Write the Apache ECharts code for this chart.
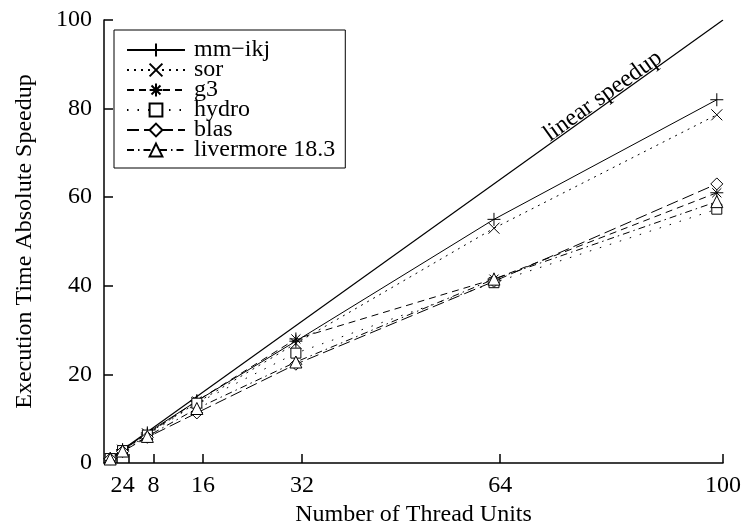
<!DOCTYPE html>
<html>
<head>
<meta charset="utf-8">
<script src="https://cdn.jsdelivr.net/npm/echarts@6/dist/echarts.min.js"></script>
<style>
  html, body { margin: 0; padding: 0; background: #fff; }
  #chart { width: 746px; height: 527px; }
</style>
</head>
<body>
<div id="chart"></div>
<script>
// thread units where each run was measured
var threads = [1, 3, 7, 15, 31, 63, 99];
var mmIkj = [1, 3, 6.8, 14, 27.5, 55, 82];
var sor = [1, 2.9, 6.6, 13.6, 27, 53, 78.6];
var g3 = [1, 2.9, 6.5, 14, 28, 41.5, 61];
var hydro = [1, 2.8, 6.3, 13.5, 24.8, 40.7, 57.3];
var blas = [0.9, 2.6, 5.8, 11.3, 22.3, 41, 63];
var livermore = [0.9, 2.7, 6, 12.3, 22.8, 41.5, 59];
var linearX = [1, 100];
var xTicks = [2, 4, 8, 16, 32, 64, 100];

var font = '"Liberation Serif", "Times New Roman", Times, serif';
var pts = function(ys) { return threads.map(function(x, i) { return [x, ys[i]]; }); };

var plusPath = 'path://M0,5L10,5M5,0L5,10';
var crossPath = 'path://M0,0L10,10M10,0L0,10';
var starPath = 'path://M0,5L10,5M5,0L5,10M1.5,1.5L8.5,8.5M8.5,1.5L1.5,8.5';

function mk(name, ys, symbol, size, dash) {
  return {
    name: name,
    type: 'line',
    data: pts(ys),
    symbol: symbol,
    symbolSize: size,
    showSymbol: true,
    z: 3,
    itemStyle: { color: '#fff', borderColor: '#000', borderWidth: 1 },
    lineStyle: { color: '#000', width: 1, type: dash },
    emphasis: { disabled: true }
  };
}

var myChart = echarts.init(document.getElementById('chart'));
myChart.setOption({
  animation: false,
  backgroundColor: '#fff',
  textStyle: { fontFamily: font, color: '#000' },
  grid: { left: 104, right: 23, top: 20, bottom: 64, outerBoundsMode: 'none' },
  legend: {
    orient: 'vertical',
    left: 114,
    top: 30,
    padding: [8, 10, 6, 12],
    itemGap: -4,
    itemWidth: 58,
    itemHeight: 16,
    borderColor: '#000',
    borderWidth: 1,
    borderRadius: 0,
    backgroundColor: '#fff',
    textStyle: { fontFamily: font, fontSize: 24, color: '#000', padding: [0, 0, 0, 4] },
    data: ['mm\u2212ikj', 'sor', 'g3', 'hydro', 'blas', 'livermore 18.3']
  },
  xAxis: {
    type: 'value',
    min: 0,
    max: 100,
    name: 'Number of Thread Units',
    nameLocation: 'middle',
    nameGap: 40,
    nameTextStyle: { fontFamily: font, fontSize: 24, color: '#000' },
    axisLine: { lineStyle: { color: '#000', width: 1.5 } },
    axisTick: { inside: true, length: 9, customValues: xTicks, lineStyle: { color: '#000', width: 1.5 } },
    axisLabel: { customValues: xTicks, fontFamily: font, fontSize: 24, color: '#000', margin: 11 },
    splitLine: { show: false }
  },
  yAxis: {
    type: 'value',
    min: 0,
    max: 100,
    interval: 20,
    name: 'Execution Time Absolute Speedup',
    nameLocation: 'middle',
    nameGap: 67,
    nameTextStyle: { fontFamily: font, fontSize: 24, color: '#000' },
    axisLine: { show: true, lineStyle: { color: '#000', width: 1.5 } },
    axisTick: { show: true, inside: true, length: 9, lineStyle: { color: '#000', width: 1.5 } },
    axisLabel: { fontFamily: font, fontSize: 24, color: '#000', margin: 12 },
    splitLine: { show: false }
  },
  series: [
    {
      name: 'linear',
      type: 'line',
      data: linearX.map(function(v) { return [v, v]; }),
      symbol: 'none',
      z: 2,
      lineStyle: { color: '#000', width: 1.2 },
      emphasis: { disabled: true },
      markPoint: {
        symbol: 'circle',
        symbolSize: 0,
        data: [{ coord: [82, 82] }],
        label: {
          show: true,
          formatter: 'linear speedup',
          position: 'inside',
          rotate: 35.6,
          offset: [-5, -8],
          fontFamily: font,
          fontSize: 24,
          color: '#000'
        }
      }
    },
    mk('mm\u2212ikj', mmIkj, plusPath, 13, 'solid'),
    mk('sor', sor, crossPath, 11, [2, 5]),
    mk('g3', g3, starPath, 13, [7, 5]),
    mk('hydro', hydro, 'rect', 10, [1.5, 9]),
    mk('blas', blas, 'diamond', 12, [12, 5]),
    mk('livermore 18.3', livermore, 'triangle', 12, [7, 4, 1.5, 4])
  ]
});
window.onresize = myChart.resize;
</script>
</body>
</html>
